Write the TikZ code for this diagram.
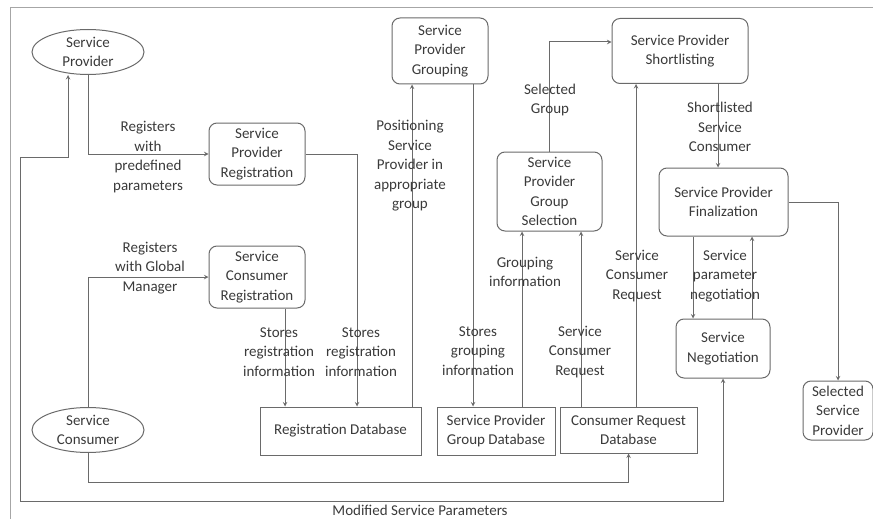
\documentclass[tikz,border=0pt]{standalone}
\usepackage{fontspec}
\setmainfont{Carlito}
\usetikzlibrary{arrows,shapes,positioning}
\definecolor{linegray}{HTML}{6A6A6A}
\definecolor{textgray}{HTML}{3A3A3A}
\tikzstyle{proc}  = [rectangle, rounded corners=8pt, draw=linegray, line width=1pt, align=center, inner sep=1pt]
\tikzstyle{store} = [rectangle, draw=linegray, line width=1pt, align=center, inner sep=1pt]
\tikzstyle{actor} = [ellipse, draw=linegray, line width=1pt, align=center, inner xsep=1pt, inner ysep=-5pt]
\tikzstyle{lbl}   = [align=center, inner sep=0pt]
\tikzstyle{arrow} = [line width=1pt, draw=linegray, ->, >=stealth]
\begin{document}
\begin{tikzpicture}[x=1pt, y=-1pt, font=\fontsize{15}{19.5}\selectfont, text=textgray]
		\useasboundingbox (0,0) rectangle (873,519);
		\draw[gray!70, line width=0.8pt] (873,7) -| (10,519);

		% actors
		\node[actor, minimum width=112, minimum height=45] (sp) at (88,52) {Service\\Provider};
		\node[actor, minimum width=112, minimum height=45] (sc) at (88,430) {Service\\Consumer};

		% processes
		\node[proc, minimum width=96, minimum height=62] (spr) at (257,154) {Service\\Provider\\Registration};
		\node[proc, minimum width=96, minimum height=62] (scr) at (257,277) {Service\\Consumer\\Registration};
		\node[proc, minimum width=96, minimum height=66] (spg) at (440,51) {Service\\Provider\\Grouping};
		\node[proc, minimum width=105, minimum height=79] (spgs) at (549.5,191.5) {Service\\Provider\\Group\\Selection};
		\node[proc, minimum width=136, minimum height=65] (sps) at (680,51) {Service Provider\\Shortlisting};
		\node[proc, minimum width=129, minimum height=68] (spf) at (723.5,202) {Service Provider\\Finalization};
		\node[proc, minimum width=94, minimum height=59] (sn) at (723,348.5) {Service\\Negotiation};
		\node[proc, minimum width=70, minimum height=59] (ssp) at (838,410.5) {Selected\\Service\\Provider};

		% data stores
		\node[store, minimum width=161, minimum height=48] (rd) at (340.5,431) {Registration Database};
		\node[store, minimum width=118, minimum height=48] (spgd) at (496,431) {Service Provider\\Group Database};
		\node[store, minimum width=137, minimum height=46] (crd) at (628.5,430) {Consumer Request\\Database};

		% helper coordinates for the line positions
		\coordinate (x20) at (20,0);
		\coordinate (x68) at (68,0);
		\coordinate (x285) at (285,0);
		\coordinate (x357) at (357,0);
		\coordinate (x412) at (412,0);
		\coordinate (x473) at (473,0);
		\coordinate (x522) at (522,0);
		\coordinate (x581) at (581,0);
		\coordinate (x636) at (636,0);
		\coordinate (x693) at (693,0);
		\coordinate (x718) at (718,0);
		\coordinate (x752) at (752,0);
		\coordinate (y42) at (0,42);
		\coordinate (y157) at (0,157);
		\coordinate (y482) at (0,482);
		\coordinate (y501) at (0,501);

		% connectors
		\draw[arrow] (sp.south) |- (spr.west);
		\draw[arrow] (sc.north) |- (scr.west);
		\draw[arrow] (scr.south -| x285) -- (rd.north -| x285);
		\draw[arrow] (spr.east) -| (x357 |- rd.north);
		\draw[arrow] (rd.north -| x412) -- (spg.south -| x412);
		\draw[arrow] (spg.south -| x473) -- (spgd.north -| x473);
		\draw[arrow] (spgd.north -| x522) -- (spgs.south -| x522);
		\draw[arrow] (crd.north -| x581) -- (spgs.south -| x581);
		\draw[arrow] (spgs.north) |- (sps.west |- y42);
		\draw[arrow] (crd.north -| x636) -- (sps.south -| x636);
		\draw[arrow] (sps.south -| x718) -- (spf.north -| x718);
		\draw[arrow] (spf.south -| x693) -- (sn.north -| x693);
		\draw[arrow] (sn.north -| x752) -- (spf.south -| x752);
		\draw[arrow] (spf.east) -| (ssp.north);
		\draw[arrow] (sc.south) |- (crd.south |- y482) -- (crd.south);
		\draw[arrow, <->] (sn.south) |- (x20 |- y501) -- (x20 |- y157) -| (sp.south -| x68);

		% labels
		\node[lbl] (lregsp) at (148,157) {Registers\\with\\predefined\\parameters};
		\node[lbl] (lregsc) at (150,268) {Registers\\with Global\\Manager};
		\node[lbl] (lstore1) at (279,352) {Stores\\registration\\information};
		\node[lbl] (lstore2) at (361,352) {Stores\\registration\\information};
		\node[lbl] (lpos) at (410,166) {Positioning\\Service\\Provider in\\appropriate\\group};
		\node[lbl] (lgrp) at (478,351) {Stores\\grouping\\information};
		\node[lbl] (lgrpinfo) at (525,272) {Grouping\\information};
		\node[lbl] (lreq1) at (580,352) {Service\\Consumer\\Request};
		\node[lbl] (lsel) at (550,100) {Selected\\Group};
		\node[lbl] (lreq2) at (637,276) {Service\\Consumer\\Request};
		\node[lbl] (lshort) at (720,127) {Shortlisted\\Service\\Consumer};
		\node[lbl] (lneg) at (725,276) {Service\\parameter\\negotiation};
		\node[lbl] (lmod) at (420,510) {Modified Service Parameters};
	\end{tikzpicture}
\end{document}
